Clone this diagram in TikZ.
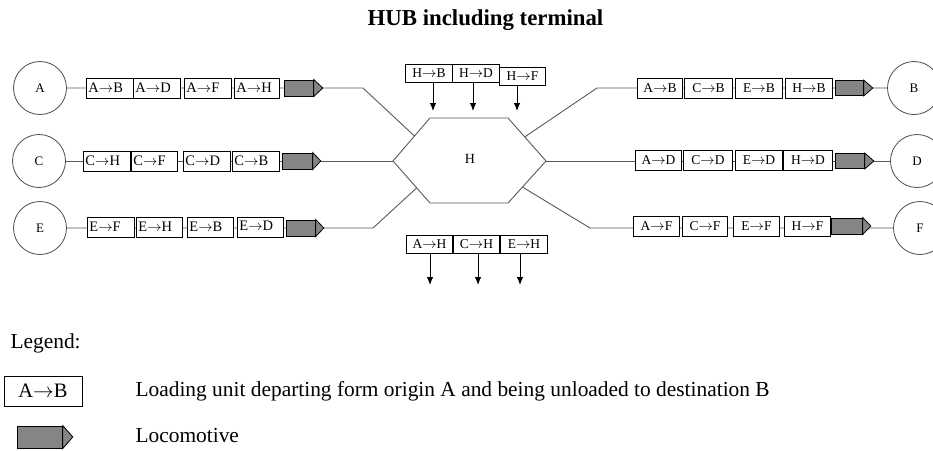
\documentclass[tikz,border=0pt]{standalone}
\usepackage{fontspec}
\setmainfont{Liberation Serif}
\usetikzlibrary{arrows.meta,calc}

% left-hand wagon: text set flush left inside the box
\newcommand\lunit[5]{% #1 name, #2 west x, #3 centre y, #4 width, #5 label
  \node[unit, minimum width=#4pt, font=\fontsize{14.5}{16}\selectfont] (#1) at (#2,#3) {\makebox[\dimexpr#4pt-4pt\relax][l]{#5}};}
% right-hand / hub wagon: text centred
\newcommand\cunit[5]{%
  \node[unit, minimum width=#4pt] (#1) at (#2,#3) {#5};}
% locomotive: grey body with a pointed nose
\newcommand\trainloco[6]{% #1 name, #2 west x, #3 centre y, #4 body width, #5 body height, #6 nose length
  \node[locobody, minimum width=#4pt, minimum height=#5pt] (#1) at (#2,#3) {};
  \filldraw[loconose] (#1.north east) -- ($(#1.east)+(#6,0)$) -- (#1.south east) -- cycle;}
\newcommand\ar{$\rightarrow$}

\begin{document}
\begin{tikzpicture}[x=1pt,y=-1pt,
  track/.style={draw=black!65, line width=0.9pt},
  station/.style={circle, draw=black!70, line width=0.8pt, minimum size=53pt, inner sep=0pt,
    font=\fontsize{13}{15}\selectfont},
  unit/.style={draw=black, fill=white, line width=0.9pt, anchor=west, minimum height=20pt,
    inner xsep=2pt, inner ysep=0pt, font=\fontsize{13.5}{15}\selectfont},
  hubunit/.style={unit, minimum height=18pt},
  locobody/.style={draw=black, fill=black!48, line width=0.8pt, anchor=west, inner sep=0pt},
  loconose/.style={draw=black, fill=black!48, line width=0.8pt, line join=miter},
  drop/.style={draw=black, line width=0.9pt, -{Latex[length=8pt,width=6.5pt]}},
  legendtext/.style={anchor=base west, font=\fontsize{21.4}{25}\selectfont}]

\useasboundingbox (0,0) rectangle (933,450);

% title
\node[anchor=base, font=\fontsize{22.8}{26}\bfseries\selectfont] (title) at (485.5,25) {HUB including terminal};

% hub hexagon
\coordinate (hL) at (393,161);
\coordinate (hTL) at (430,118);
\coordinate (hTR) at (508,118);
\coordinate (hR) at (546,161);
\coordinate (hBR) at (508,203);
\coordinate (hBL) at (430,203);
\draw[track] (hL) -- (hTL) -- (hTR) -- (hR) -- (hBR) -- (hBL) -- cycle;
\node[font=\fontsize{14}{16}\selectfont] (hub) at (470,159) {H};
\coordinate (hA) at ($(hL)!0.58!(hTL)$);
\coordinate (hE) at ($(hL)!0.64!(hBL)$);
\coordinate (hB) at ($(hR)!0.56!(hTR)$);
\coordinate (hF) at ($(hR)!0.62!(hBR)$);

% stations
\node[station] (A) at (40,88) {A};
\node[station] (C) at (39,161) {C};
\node[station] (E) at (40,228) {E};
\node[station] (B) at (914,88) {B};
\node[station] (D) at (917,161) {D};
\node[station] (F) at (920,228) {F};

% tracks
\coordinate (kA) at (363,88);
\coordinate (kE) at (373,228);
\coordinate (kB) at (597,88);
\coordinate (kF) at (590,228);
\draw[track] (A.east) -- (kA) -- (hA);
\draw[track] (C.east) -- (hL);
\draw[track] (E.east) -- (kE) -- (hE);
\draw[track] (hB) -- (kB) -- (B.west);
\draw[track] (hR) -- (D.west);
\draw[track] (hF) -- (kF) -- (F.west);

% trains arriving at the hub
\lunit{a1}{86}{88}{47}{A\ar B}
\lunit{a2}{133}{88}{47}{A\ar D}
\lunit{a3}{184}{88}{47}{A\ar F}
\lunit{a4}{234}{88}{45}{A\ar H}
\trainloco{la}{284}{88}{29}{16}{9}

\lunit{c1}{83}{161}{47}{C\ar H}
\lunit{c2}{131}{161}{46}{C\ar F}
\lunit{c3}{183}{161}{47}{C\ar D}
\lunit{c4}{232}{161}{47}{C\ar B}
\trainloco{lc}{282}{161}{30}{16}{8}

\lunit{e1}{87}{227}{47}{E\ar F}
\lunit{e2}{136}{227}{46}{E\ar H}
\lunit{e3}{187}{227}{46}{E\ar B}
\lunit{e4}{237}{227}{46}{\raisebox{2pt}{E\ar D}}
\trainloco{le}{286}{228}{29}{16}{8}

% trains leaving the hub
\cunit{b1}{637}{88}{45}{A\ar B}
\cunit{b2}{684}{88}{48}{C\ar B}
\cunit{b3}{735}{88}{47}{E\ar B}
\cunit{b4}{785}{88}{47}{H\ar B}
\trainloco{lb}{835}{88}{28}{15}{9}

\cunit{d1}{635}{160}{46}{A\ar D}
\cunit{d2}{683}{160}{49}{C\ar D}
\cunit{d3}{735}{160}{47}{E\ar D}
\cunit{d4}{783}{160}{49}{H\ar D}
\trainloco{ld}{835}{161}{29}{15}{9}

\cunit{f1}{633}{226}{46}{A\ar F}
\cunit{f2}{682}{226}{45}{C\ar F}
\cunit{f3}{733}{226}{46}{E\ar F}
\cunit{f4}{784}{226}{46}{H\ar F}
\trainloco{lf}{831}{226}{31}{16}{8}

% units unloaded at the hub (top) and loaded at the hub (bottom)
\node[hubunit, minimum width=47pt] (hb) at (405,73.5) {H\ar B};
\node[hubunit, minimum width=47pt] (hd) at (452,73) {H\ar D};
\node[hubunit, minimum width=46pt] (hf) at (499,76) {H\ar F};
\coordinate (tb) at (433,111);
\coordinate (td) at (473,111);
\coordinate (tf) at (517,111);
\draw[drop] (hb.south -| tb) -- (tb);
\draw[drop] (hd.south -| td) -- (td);
\draw[drop] (hf.south -| tf) -- (tf);

\node[hubunit, minimum width=46pt] (ah) at (406,244) {A\ar H};
\node[hubunit, minimum width=46pt] (ch) at (453,244) {C\ar H};
\node[hubunit, minimum width=47pt] (eh) at (500,244) {E\ar H};
\coordinate (ua) at (430,285);
\coordinate (uc) at (478,285);
\coordinate (ue) at (520,285);
\draw[drop] (ah.south -| ua) -- (ua);
\draw[drop] (ch.south -| uc) -- (uc);
\draw[drop] (eh.south -| ue) -- (ue);

% legend
\node[legendtext] (leghead) at (7,348) {Legend:};
\node[draw=black, line width=0.9pt, minimum width=78pt, minimum height=30pt, inner sep=0pt,
  font=\fontsize{20.5}{24}\selectfont] (legunit) at (43,391) {A\ar B};
\node[legendtext] (legunittext) at (132,396) {Loading unit departing form origin A and being unloaded to destination B};
\trainloco{legloco}{17}{437}{45}{22}{10}
\node[legendtext] (leglocotext) at (132,442) {Locomotive};
\end{tikzpicture}
\end{document}
